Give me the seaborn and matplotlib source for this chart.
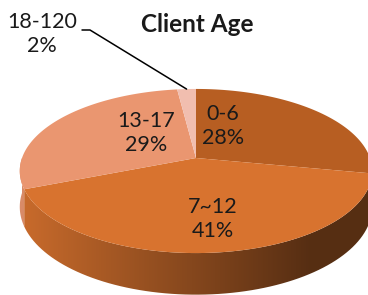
import numpy as np
import matplotlib
matplotlib.use('Agg')
import matplotlib.pyplot as plt
from matplotlib.patches import Polygon
import seaborn as sns

# data
categories = ['0-6', '7~12', '13-17', '18-120']
shares = [28, 41, 29, 2]
pct_labels = ['28%', '41%', '29%', '2%']
colors = ['#B75E22', '#D8732F', '#EA9670', '#F1BEAF']

# label anchors (pixel coords, centre of the two-line label)
label_pos = [(223, 126), (213, 219), (146, 133), (42, 34)]

sns.set_theme(style='white')
plt.rcParams['font.family'] = ['Lato', 'DejaVu Sans']

W, H = 368, 295
fig = plt.figure(figsize=(W / 100, H / 100), dpi=100)
ax = fig.add_axes([0, 0, 1, 1])

# simple perspective projection of the unit disk
cx, cy = 196, 158
sx, sy, k = 174, 80, 0.1585
depth = 35


def proj(theta, r=1.0):
    u, v = r * np.cos(theta), r * np.sin(theta)
    den = 1 + k * v
    return cx + sx * u / den, cy - sy * v / den


def drop(theta):
    return depth / (1 + k * np.sin(theta))


def shade(x):
    return np.clip(0.93 - 0.51 * (x - 20) / 280, 0.40, 0.93)


fracs = np.array(shares) / np.sum(shares)
starts = np.pi / 2 - 2 * np.pi * np.concatenate([[0], np.cumsum(fracs)[:-1]])
ends = starts - 2 * np.pi * fracs

# side walls, only the front half is visible
for a0, a1, c in zip(starts, ends, colors):
    lo, hi = max(a1, -np.pi), min(a0, 0)
    if hi <= lo:
        continue
    t = np.linspace(lo, hi, 80)
    xt, yt = proj(t)
    yb = yt + drop(t)
    pts = np.column_stack([np.r_[xt, xt[::-1]], np.r_[yt, yb[::-1]]])
    patch = Polygon(pts, closed=True, facecolor='none', edgecolor='none')
    ax.add_patch(patch)
    x0, x1 = pts[:, 0].min() - 1, pts[:, 0].max() + 1
    y0, y1 = pts[:, 1].min() - 1, pts[:, 1].max() + 1
    xs = np.linspace(x0, x1, 200)
    base = np.array(matplotlib.colors.to_rgb(c))
    img = np.clip(shade(xs)[None, :, None] * base[None, None, :], 0, 1)
    img = np.repeat(img, 2, axis=0)
    im = ax.imshow(img, extent=(x0, x1, y1, y0), aspect='auto',
                   interpolation='bilinear', zorder=1)
    im.set_clip_path(patch)

# top faces
for a0, a1, c in zip(starts, ends, colors):
    t = np.linspace(a0, a1, 120)
    xt, yt = proj(t)
    ax.fill(np.r_[cx, xt], np.r_[cy, yt], color=c, lw=0, zorder=2)

# labels
for i, (cat, pct) in enumerate(zip(categories, pct_labels)):
    x, y = label_pos[i]
    ax.text(x, y, f'{cat}\n{pct}', ha='center', va='center', fontsize=15.5,
            linespacing=1.3, color='#1a1a1a', zorder=3)

# leader line for the small slice
mid = (starts[3] + ends[3]) / 2
ex, ey = proj(mid)
ax.plot([82, 90, ex], [30, 30, ey], color='black', lw=1.1, zorder=3)

ax.text(197, 24, 'Client Age', ha='center', va='center', fontsize=17.5,
        fontweight='bold', color='#1a1a1a')

ax.set_xlim(0, W)
ax.set_ylim(H, 0)
ax.axis('off')

fig.savefig('out.png', dpi=100)
